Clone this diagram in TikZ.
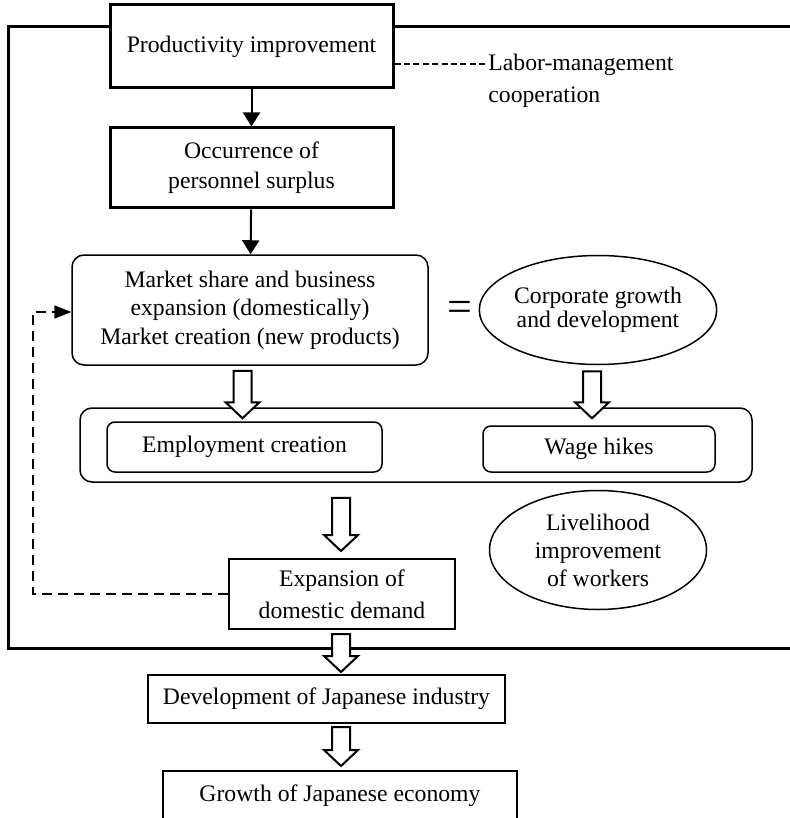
\documentclass[tikz,border=0pt]{standalone}
\usepackage{fontspec}
\setmainfont{Liberation Serif}
\usetikzlibrary{shapes.geometric, arrows.meta, calc}

\newcommand{\bigarrow}[2]{%
  \draw[hollow] let \p1=(#1), \p2=(#2) in
    (\x1-4.5pt,\y1) -- (\x1+4.5pt,\y1) -- (\x1+4.5pt,\y2+8pt) -- (\x1+8.5pt,\y2+8pt)
    -- (\x1,\y2) -- (\x1-8.5pt,\y2+8pt) -- (\x1-4.5pt,\y2+8pt) -- cycle;}

\begin{document}
\begin{tikzpicture}[x=0.5pt, y=-0.5pt,
        every node/.style={font=\fontsize{11.85}{15}\selectfont, align=center, inner sep=0pt},
        thickbox/.style={draw, line width=1.5pt, fill=white, minimum width=141.5pt},
        box/.style={draw, line width=1pt, fill=white},
        roundbox/.style={draw, line width=0.75pt, rounded corners=5pt, fill=white},
        oval/.style={draw, ellipse, line width=0.75pt, fill=white},
        arrow/.style={-{Triangle[length=7pt,width=8.5pt]}, line width=1pt},
        hollow/.style={draw, fill=white, line width=1pt},
        frame/.style={line width=1.5pt},
        feedback/.style={dash pattern=on 5pt off 3pt, line width=0.9pt}
    ]
    \useasboundingbox (0,0) rectangle (790,818);
    \clip (0,0) rectangle (790,818);

    % Frame
    \draw[frame] (790,27) -- (8,27) -- (8,648) -- (790,648);

    % Nodes
    \node[thickbox, minimum height=41.5pt] (prod) at (251.5,46.5) {Productivity improvement};
    \node[thickbox, minimum height=40pt] (surplus) at (251.5,168) {Occurrence of\\personnel surplus};
    \node[anchor=west, align=left, font=\fontsize{11.85}{16}\selectfont] (labor) at (488,81) {Labor-management\\cooperation};

    \node[roundbox, rounded corners=6pt, minimum width=178pt, minimum height=55pt,
        font=\fontsize{11.85}{14.25}\selectfont] (market) at (250,310)
        {Market share and business\\expansion (domestically)\\Market creation (new products)};
    \node[font=\fontsize{22}{26}\selectfont] (eq) at (460,311) {=};
    \node[oval, minimum width=116.5pt, minimum height=54.5pt,
        font=\fontsize{11.85}{12}\selectfont] (corp) at (598,310) {Corporate growth\\and development};

    \node[roundbox, rounded corners=6pt, minimum width=336pt, minimum height=37pt] (group) at (416,445) {};
    \node[roundbox, rounded corners=4pt, minimum width=137.5pt, minimum height=25pt] (employ) at (244.5,447) {Employment creation};
    \node[roundbox, rounded corners=4pt, minimum width=116pt, minimum height=23pt] (wage) at (599,449) {Wage hikes};

    \node[box, minimum width=113pt, minimum height=35pt, font=\fontsize{11.85}{16}\selectfont] (demand) at (342,594) {Expansion of\\domestic demand};
    \node[oval, minimum width=108.5pt, minimum height=59.5pt,
        font=\fontsize{11.85}{14}\selectfont] (live) at (598,550) {Livelihood\\improvement\\of workers};

    \node[box, minimum width=178.5pt, minimum height=24pt] (industry) at (326.5,699) {Development of Japanese industry};
    \node[box, minimum width=177pt, minimum height=25pt] (economy) at (340,796) {Growth of Japanese economy};

    \coordinate (back) at (33,312);

    % Arrows
    \draw[arrow] (prod) -- (surplus);
    \draw[arrow] (surplus) -- (market);
    \draw[dash pattern=on 3pt off 1.7pt, line width=1pt] ([yshift=-9pt]prod.east) -- ([yshift=-9pt]prod.east -| labor.west);
    \draw[feedback, -{Triangle[length=8.5pt,width=6.5pt]}] (demand.west) -| (back) -- (back -| market.west);

    \bigarrow{$(market.south -| employ.north)+(-2,5)$}{$(employ.north)+(0,-3)$}
    \bigarrow{$(corp.south -| wage.north)+(-7,6)$}{$(wage.north)+(0,-7)$}
    \bigarrow{$(group.south -| demand.north)+(-1,15)$}{$(demand.north)+(0,-7)$}
    \bigarrow{$(demand.south)+(-1,4)$}{$(industry.north)+(0,-2)$}
    \bigarrow{$(industry.south -| demand.south)+(-1,3)$}{$(economy.north)+(0,-4)$}

\end{tikzpicture}
\end{document}
